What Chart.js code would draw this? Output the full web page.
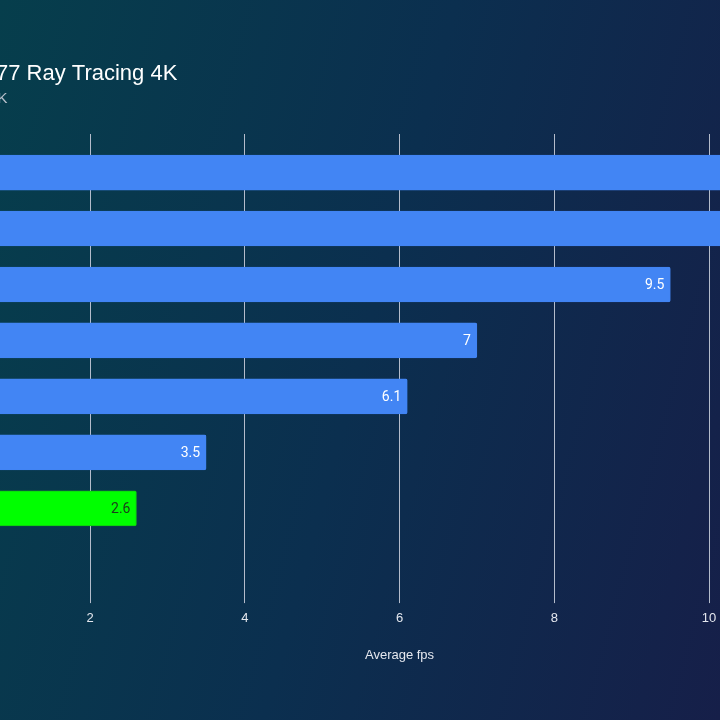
<!DOCTYPE html>
<html>
<head>
<meta charset="utf-8">
<script src="https://cdn.jsdelivr.net/npm/chart.js@4.4.0/dist/chart.umd.min.js"></script>
<style>
  html, body { margin: 0; padding: 0; }
  body {
    width: 720px; height: 720px; overflow: hidden; position: relative;
    background: linear-gradient(105deg, #063e4c 0%, #0b2f4f 50%, #161f49 100%);
  }
  #wrap { position: absolute; left: -140.6px; top: 0; width: 1020px; height: 720px; }
</style>
</head>
<body>
<div id="wrap"><canvas id="chart"></canvas></div>
<script>
// data
const gpus = ["RTX 4070 Ti", "RTX 4070", "RX 7900 XTX", "RX 7900 XT", "RX 6800 XT", "Arc A770", "Arc A750"];
const fps = [11.3, 10.9, 9.5, 7, 6.1, 3.5, 2.6];
const barColors = ["#4285f4", "#4285f4", "#4285f4", "#4285f4", "#4285f4", "#4285f4", "#00ff00"];
const labelColors = ["#ffffff", "#ffffff", "#ffffff", "#ffffff", "#ffffff", "#ffffff", "#1b3b1b"];
const xTicks = [0, 2, 4, 6, 8, 10, 12];

// value labels at the end of each bar
const valueLabels = {
  id: "valueLabels",
  afterDatasetsDraw(chart) {
    const ctx = chart.ctx;
    const meta = chart.getDatasetMeta(0);
    ctx.save();
    ctx.font = "14px Roboto";
    ctx.textAlign = "right";
    ctx.textBaseline = "middle";
    meta.data.forEach((bar, i) => {
      ctx.fillStyle = labelColors[i];
      ctx.fillText(String(fps[i]), bar.x - 6, bar.y + 1);
    });
    ctx.restore();
  }
};

new Chart(document.getElementById("chart"), {
  type: "bar",
  data: {
    labels: gpus,
    datasets: [{
      data: fps,
      backgroundColor: barColors,
      borderColor: barColors.map(c => c == "#00ff00" ? "#12c412" : c),
      borderWidth: 1,
      borderRadius: 2,
      borderSkipped: false,
      barThickness: 35
    }]
  },
  plugins: [valueLabels],
  options: {
    indexAxis: "y",
    responsive: true,
    maintainAspectRatio: false,
    animation: false,
    layout: { padding: { left: 0, right: 11.9, top: 0, bottom: 52.9 } },
    plugins: {
      legend: { display: false },
      tooltip: { enabled: false },
      title: {
        display: true,
        text: "Cyberpunk 2077 Ray Tracing 4K",
        align: "start",
        color: "#ffffff",
        font: { family: "'Liberation Sans', Arial", size: 22, weight: "normal" },
        padding: { top: 60.8, bottom: 0 }
      },
      subtitle: {
        display: true,
        text: "Ultra preset, native 4K",
        align: "start",
        color: "#b9c0cc",
        font: { family: "'Liberation Sans', Arial", size: 15 },
        padding: { top: 2.8, bottom: 26 }
      }
    },
    scales: {
      x: {
        type: "linear",
        min: 0,
        max: 12,
        afterBuildTicks: (scale) => { scale.ticks = xTicks.map(v => ({ value: v })); },
        grid: { color: "#b4bccb", lineWidth: 1, tickLength: 66.8, tickColor: "#b4bccb" },
        border: { display: false },
        ticks: { color: "#e4e7ee", padding: 8, font: { family: "'Liberation Sans', Arial", size: 13 } },
        title: {
          display: true,
          text: "Average fps",
          color: "#e4e7ee",
          font: { family: "'Liberation Sans', Arial", size: 13 },
          padding: { top: 12.8, bottom: 4 }
        }
      },
      x2: {
        type: "linear",
        position: "top",
        min: 0,
        max: 12,
        afterBuildTicks: (scale) => { scale.ticks = xTicks.map(v => ({ value: v })); },
        grid: { drawOnChartArea: false, tickLength: 10.6, tickColor: "#b4bccb" },
        border: { display: false },
        ticks: { display: false }
      },
      y: {
        grid: { display: false },
        border: { display: false },
        ticks: { color: "#e4e7ee", font: { family: "'Liberation Sans', Arial", size: 12 } },
        afterFit: (scale) => { scale.width = 76.3; }
      }
    }
  }
});
</script>
</body>
</html>
